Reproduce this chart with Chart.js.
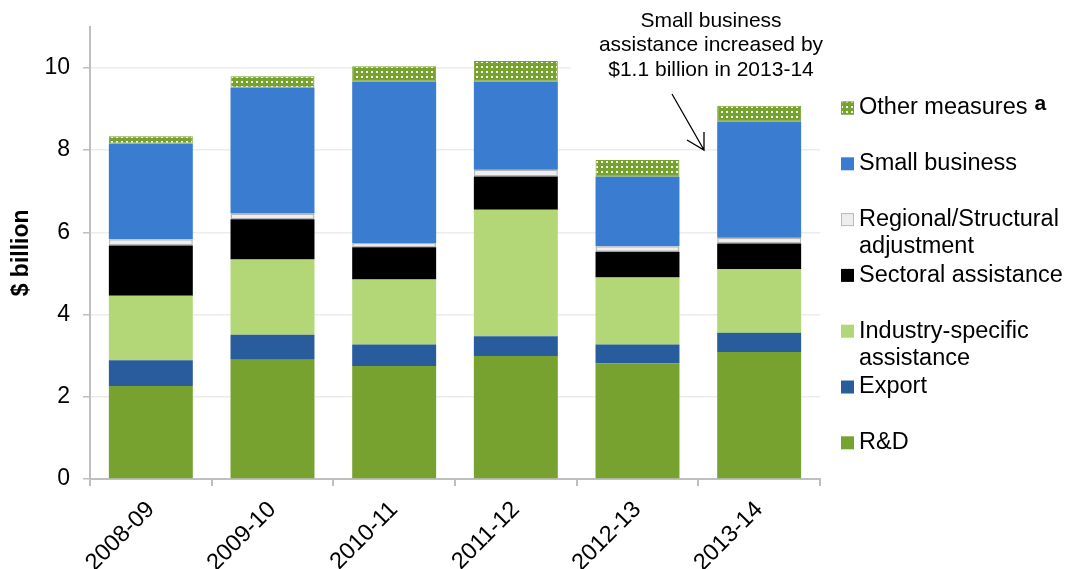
<!DOCTYPE html>
<html>
<head>
<meta charset="utf-8">
<script src="https://cdn.jsdelivr.net/npm/chart.js@4.4.1/dist/chart.umd.min.js"></script>
<style>
  html, body { margin: 0; padding: 0; background: #fff; }
  #wrap { width: 1069px; height: 569px; position: relative; }
</style>
</head>
<body>
<div id="wrap"><canvas id="assist"></canvas></div>
<script>
const years = ['2008-09', '2009-10', '2010-11', '2011-12', '2012-13', '2013-14'];
const yTicks = [0, 2, 4, 6, 8, 10];

// $ billion
const rnd      = [2.26, 2.90, 2.75, 2.99, 2.81, 3.09];
const exportA  = [0.63, 0.61, 0.52, 0.48, 0.46, 0.47];
const industry = [1.57, 1.83, 1.58, 3.08, 1.63, 1.54];
const sectoral = [1.22, 0.98, 0.79, 0.81, 0.63, 0.63];
const regional = [0.15, 0.14, 0.10, 0.16, 0.13, 0.14];
const smallBiz = [2.33, 3.06, 3.93, 2.15, 1.69, 2.82];
const other    = [0.18, 0.28, 0.37, 0.50, 0.41, 0.39];

const FONT = '"Liberation Sans", Arial, sans-serif';

// dotted green fill used for "Other measures"
function dots() {
  const c = document.createElement('canvas');
  c.width = 5; c.height = 5;
  const g = c.getContext('2d');
  g.fillStyle = '#77a22f';
  g.fillRect(0, 0, 5, 5);
  g.fillStyle = '#f6f9f0';
  g.fillRect(1, 1, 2, 2);
  return g.createPattern(c, 'repeat');
}
const otherFill = dots();

const legendItems = [
  { text: ['Other measures'], sup: 'a', fill: otherFill, stroke: '#77a22f' },
  { text: ['Small business'], fill: '#3a7dd0' },
  { text: ['Regional/Structural', 'adjustment'], fill: '#eeeeee', stroke: '#bbbbbb' },
  { text: ['Sectoral assistance'], fill: '#000000' },
  { text: ['Industry-specific', 'assistance'], fill: '#b3d677' },
  { text: ['Export'], fill: '#285c9c' },
  { text: ['R&D'], fill: '#78a22f' },
];
const note = ['Small business', 'assistance increased by', '$1.1 billion in 2013-14'];

const extras = {
  id: 'extras',
  beforeDatasetsDraw(chart) {
    // white text box of the note hides part of the top gridline
    const ctx = chart.ctx;
    ctx.save();
    ctx.fillStyle = '#fff';
    ctx.fillRect(571, 0, chart.chartArea.right - 571 + 2, 85);
    ctx.restore();
  },
  afterDraw(chart) {
    const ctx = chart.ctx;
    ctx.save();
    // legend
    let y = 108;
    legendItems.forEach(it => {
      ctx.fillStyle = it.fill;
      ctx.fillRect(841, y - 6.5, 13, 13);
      if (it.stroke) {
        ctx.strokeStyle = it.stroke;
        ctx.lineWidth = 1;
        ctx.strokeRect(841.5, y - 6, 12, 12);
      }
      ctx.fillStyle = '#000';
      ctx.font = '23.5px ' + FONT;
      ctx.textAlign = 'left';
      ctx.textBaseline = 'middle';
      it.text.forEach((t, i) => ctx.fillText(t, 859, y + i * 27));
      if (it.sup) {
        const w = ctx.measureText(it.text[0]).width;
        ctx.font = 'bold 21px ' + FONT;
        ctx.fillText(it.sup, 859 + w + 7, y - 4);
      }
      y += 55.8;
    });
    // note and arrow
    ctx.font = '21px ' + FONT;
    ctx.textAlign = 'center';
    ctx.fillStyle = '#000';
    note.forEach((t, i) => ctx.fillText(t, 711, 21 + i * 24.5));
    ctx.strokeStyle = '#000';
    ctx.lineWidth = 1.3;
    ctx.beginPath();
    ctx.moveTo(672, 94);
    ctx.lineTo(704, 150);
    ctx.moveTo(687, 140);
    ctx.lineTo(704, 150);
    ctx.lineTo(704, 132);
    ctx.stroke();
    ctx.restore();
  }
};

function ds(label, data, bg, border, bw) {
  return {
    label, data,
    backgroundColor: bg,
    borderColor: border || bg,
    borderWidth: bw || 0,
    borderSkipped: false,
  };
}

new Chart(document.getElementById('assist'), {
  type: 'bar',
  data: {
    labels: years,
    datasets: [
      ds('R&D', rnd, '#78a22f'),
      ds('Export', exportA, '#285c9c'),
      ds('Industry-specific assistance', industry, '#b3d677'),
      ds('Sectoral assistance', sectoral, '#000000'),
      ds('Regional/Structural adjustment', regional, '#eeeeee', '#b5b5b5', 1.5),
      ds('Small business', smallBiz, '#3a7dd0'),
      ds('Other measures', other, otherFill, '#77a22f', 1),
    ],
  },
  options: {
    responsive: true,
    maintainAspectRatio: false,
    animation: false,
    events: [],
    datasets: { bar: { categoryPercentage: 1, barPercentage: 0.69 } },
    layout: { padding: { top: 26, right: 249, left: 0, bottom: 0 } },
    scales: {
      x: {
        stacked: true,
        afterFit: s => { s.height = 90; },
        grid: { drawOnChartArea: false, drawTicks: true, tickLength: 7, tickColor: '#bfbfbf', lineWidth: 2 },
        border: { display: true, color: '#bfbfbf', width: 2 },
        ticks: { color: '#000', font: { family: FONT, size: 23.5 }, minRotation: 45, maxRotation: 45, padding: 10 },
      },
      y: {
        stacked: true,
        min: 0, max: 11,
        afterFit: s => { s.width = 90; },
        afterBuildTicks: s => { s.ticks = yTicks.map(v => ({ value: v })); },
        grid: { color: '#ececec', lineWidth: 1.5, tickLength: 7, tickColor: '#bfbfbf' },
        border: { display: true, color: '#bfbfbf', width: 2 },
        ticks: { color: '#000', font: { family: FONT, size: 23 }, padding: 13 },
        title: { display: true, text: '$ billion', color: '#000', font: { family: FONT, size: 23, weight: 'bold' }, padding: { top: 8, bottom: 0 } },
      },
    },
    plugins: {
      legend: { display: false },
      tooltip: { enabled: false },
    },
  },
  plugins: [extras],
});
</script>
</body>
</html>
